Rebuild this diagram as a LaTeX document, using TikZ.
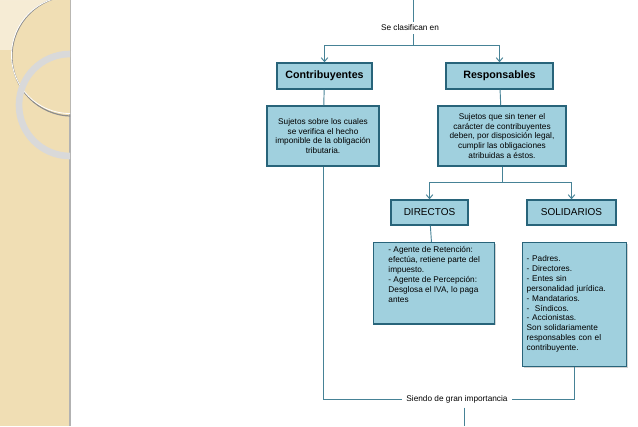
\documentclass[tikz,border=0pt]{standalone}
\usepackage{fontspec}
\setmainfont{Liberation Sans}
\usetikzlibrary{arrows.meta,shadows}
\definecolor{boxfill}{RGB}{160,208,222}
\definecolor{boxline}{RGB}{40,100,122}
\definecolor{conn}{RGB}{70,130,150}
\definecolor{beige}{RGB}{240,222,180}
\begin{document}
\begin{tikzpicture}[x=0.75pt,y=-0.75pt,
  box/.style={draw=boxline,line width=1pt,fill=boxfill,inner sep=2pt,
    drop shadow={opacity=0.35,shadow xshift=1pt,shadow yshift=-1pt}},
  ln/.style={draw=conn,line width=0.7pt},
  arr/.style={ln,-{Straight Barb[length=3pt,width=5pt]}},
  lbl/.style={font=\fontsize{6.2}{7.4}\selectfont,align=center}]
\useasboundingbox (0,0) rectangle (638,426);
% decoration strip
\fill[beige] (0,0) rectangle (70,426);
\draw[black!30,line width=0.8pt] (70,0) -- (70,426);
\begin{scope}
\clip (0,0) rectangle (70,426);
\fill[white,opacity=0.45] (0,0) rectangle (57,50);
\fill[beige] (70,55) circle (58);
\fill[white,opacity=0.35] (0,0) -- (57,0) arc (0:-90:57) -- cycle;
\draw[black!45,line width=0.9pt] (72,56) circle (60);
\draw[white,line width=0.6pt] (70,55) circle (58.5);
\draw[black!15,line width=5pt] (70,105) circle (51);
\end{scope}
% boxes
\node[box,minimum width=95pt*0.75,minimum height=26pt*0.75,font=\fontsize{8}{9}\bfseries\selectfont] (con) at (324.5,76) {Contribuyentes};
\node[box,minimum width=107pt*0.75,minimum height=26pt*0.75,font=\fontsize{8}{9}\bfseries\selectfont] (res) at (499.5,76) {Responsables};
\node[box,minimum width=112pt*0.75,minimum height=60pt*0.75,lbl] (cond) at (323,136) {Sujetos sobre los cuales\\se verifica el hecho\\imponible de la obligación\\tributaria.};
\node[box,minimum width=128pt*0.75,minimum height=60pt*0.75,lbl] (resd) at (502,136) {Sujetos que sin tener el\\carácter de contribuyentes\\deben, por disposición legal,\\cumplir las obligaciones\\atribuidas a éstos.};
\node[box,minimum width=77pt*0.75,minimum height=25pt*0.75,font=\fontsize{7.5}{9}\selectfont] (dir) at (429.5,212.5) {DIRECTOS};
\node[box,minimum width=89pt*0.75,minimum height=25pt*0.75,font=\fontsize{7.5}{9}\selectfont] (sol) at (571.5,212.5) {SOLIDARIOS};
\node[box,minimum width=121pt*0.75,minimum height=68pt*0.75,lbl,align=left,anchor=north west,inner sep=3pt] (dird) at (373,242) {- Agente de Retención:\\efectúa, retiene parte del\\impuesto.\\- Agente de Percepción:\\Desglosa el IVA, lo paga\\antes\\[6pt]};
\node[box,minimum width=103pt*0.75,minimum height=124pt*0.75,lbl,align=left,anchor=north west,inner sep=3pt,text width=96pt*0.75] (sold) at (522,242) {\\[-4pt]- Padres.\\- Directores.\\- Entes sin\\personalidad jurídica.\\- Mandatarios.\\-\ \ Síndicos.\\- Accionistas.\\Son solidariamente\\responsables con el\\contribuyente.};
% labels
\node[lbl] (se) at (410,28) {Se clasifican en};
\node[lbl] (si) at (457,399) {Siendo de gran importancia};
\coordinate (top) at (413,0);
\coordinate (bot) at (464,426);
% connectors
\draw[ln] (top) -- (413,22);
\draw[ln] (413,34) -- (413,45);
\draw[arr] (413,45) -| (con.north);
\draw[arr] (413,45) -| (res.north);
\draw[ln] (con) -- (cond);
\draw[ln] (res) -- (resd);
\draw[ln] (resd.south) -- (502,182);
\draw[arr] (502,182) -| (dir.north);
\draw[arr] (502,182) -| (sol.north);
\draw[ln] (dir) -- (dird);
\draw[ln] (cond.south) |- (si.west);
\draw[ln] (sold.south) |- (si.east);
\draw[ln] (si.south) ++(7,0) -- (bot);
\end{tikzpicture}
\end{document}
